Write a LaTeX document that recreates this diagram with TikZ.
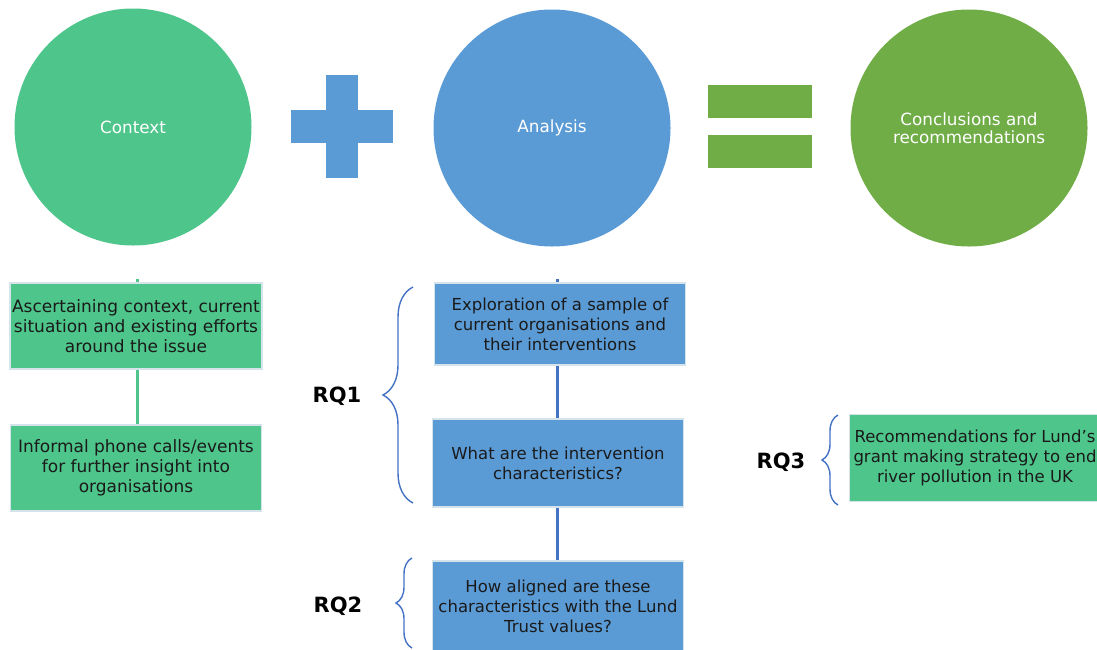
\documentclass[tikz,border=0pt]{standalone}
\usepackage{fontspec}
\setmainfont{DejaVu Sans}
\usetikzlibrary{decorations.pathreplacing}
\definecolor{mint}{HTML}{4EC58A}
\definecolor{skyblue}{HTML}{5B9BD5}
\definecolor{leaf}{HTML}{70AD47}
\definecolor{linkblue}{HTML}{4472C4}
\definecolor{rim}{HTML}{D5E3EA}
\definecolor{ink}{HTML}{1A1A1A}
\tikzset{
  bigcircle/.style={circle, minimum size=237pt, inner sep=0pt, text=white, font=\fontsize{16.8}{18}\selectfont, align=center},
  infobox/.style={draw=rim, line width=1.5pt, minimum width=251pt, inner sep=2pt, align=center, text=ink, font=\fontsize{16.5}{20}\selectfont},
  glink/.style={draw=mint, line width=3pt},
  blink/.style={draw=linkblue, line width=3pt},
  rqbrace/.style={draw=linkblue, line width=1.4pt, decorate, decoration={brace, amplitude=#1}},
  rqlabel/.style={font=\fontsize{21}{24}\selectfont\bfseries, text=black}
}
\begin{document}
\begin{tikzpicture}[x=1pt,y=-1pt]
\useasboundingbox[fill=white] (0,0) rectangle (1097,649);

% top row: context + analysis = conclusions
\node[bigcircle, fill=mint] (ctx) at (133,127) {Context};
\node[bigcircle, fill=skyblue] (ana) at (552,128) {Analysis};
\node[bigcircle, fill=leaf] (con) at (969,128) {Conclusions and\\recommendations};

\fill[skyblue] (291,110) rectangle (393,143);
\fill[skyblue] (326,75) rectangle (358,178);
\fill[leaf] (708,85) rectangle (812,118);
\fill[leaf] (708,135) rectangle (812,168);

% context column
\node[infobox, fill=mint, minimum height=86pt, font=\fontsize{17}{20}\selectfont] (c1) at (136,326)
  {Ascertaining context, current\\situation and existing efforts\\around the issue};
\node[infobox, fill=mint, minimum height=86pt, font=\fontsize{17}{20}\selectfont] (c2) at (136,468)
  {Informal phone calls/events\\for further insight into\\organisations};
\coordinate (c0) at (137,279);
\draw[glink] (c0) -- (c1.north -| c0);
\draw[glink] (c1.south -| c0) -- (c2.north -| c0);

% analysis column
\node[infobox, fill=skyblue, minimum height=82pt] (a1) at (560,324)
  {Exploration of a sample of\\current organisations and\\their interventions};
\node[infobox, fill=skyblue, minimum height=88pt] (a2) at (558,463)
  {What are the intervention\\characteristics?};
\node[infobox, fill=skyblue, minimum height=90pt] (a3) at (558,606)
  {How aligned are these\\characteristics with the Lund\\Trust values?};
\coordinate (a0) at (557,279);
\draw[blink] (a0) -- (a1.north -| a0);
\draw[blink] (a1.south -| a0) -- (a2.north -| a0);
\draw[blink] (a2.south -| a0) -- (a3.north -| a0);

% recommendations
\node[infobox, fill=mint, minimum height=87pt] (r1) at (975,458)
  {Recommendations for Lund’s\\grant making strategy to end\\river pollution in the UK};

% research question braces
\draw[rqbrace=30pt] (413,503) -- (413,287);
\draw[rqbrace=16pt] (412,648) -- (412,558);
\draw[rqbrace=16pt] (838,505) -- (838,415);
\node[rqlabel] (rq1) at (337,396) {RQ1};
\node[rqlabel] (rq2) at (338,606) {RQ2};
\node[rqlabel] (rq3) at (781,462) {RQ3};
\end{tikzpicture}
\end{document}
